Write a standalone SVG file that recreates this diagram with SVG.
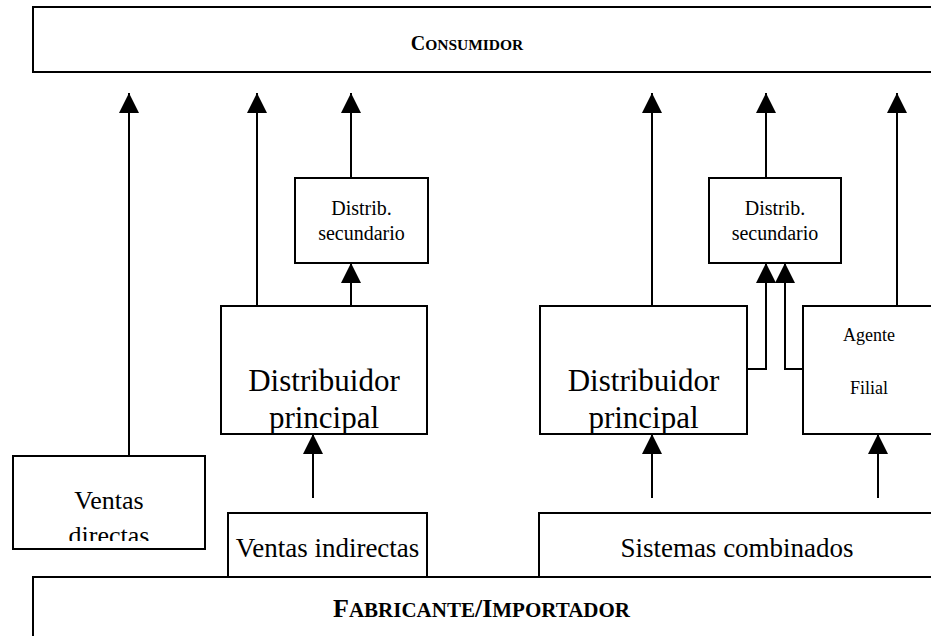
<svg xmlns="http://www.w3.org/2000/svg" width="931" height="636" viewBox="0 0 931 636">
<style>
.box{fill:#fff;stroke:#000;stroke-width:2}
.ln{fill:none;stroke:#000;stroke-width:2}
text{font-family:'Liberation Serif','Times New Roman','DejaVu Serif','Noto Serif',serif;fill:#000;text-anchor:middle;font-weight:normal}
.b{font-weight:bold}
</style>
<defs>
<marker id="ah" markerUnits="userSpaceOnUse" markerWidth="20" markerHeight="20" refX="20" refY="10" orient="auto">
<path d="M0,0 L20,10 L0,20 Z" fill="#000"/>
</marker>
<clipPath id="cd"><rect x="14" y="457" width="190" height="84"/></clipPath>
<clipPath id="cp1"><rect x="222" y="307" width="204" height="126"/></clipPath>
<clipPath id="cp2"><rect x="541" y="307" width="205" height="126"/></clipPath>
</defs>
<rect width="931" height="636" fill="#fff"/>
<g id="consumidor">
<rect class="box" x="33" y="7" width="910" height="65"/>
<text class="b" x="467" y="50"><tspan font-size="20">C</tspan><tspan font-size="15.5">ONSUMIDOR</tspan></text>
</g>
<g id="fabricante">
<rect class="box" x="33" y="577" width="910" height="70"/>
<text class="b" x="481.5" y="617"><tspan font-size="26">F</tspan><tspan font-size="21">ABRICANTE</tspan><tspan font-size="26">/I</tspan><tspan font-size="21">MPORTADOR</tspan></text>
</g>
<g id="ventas-directas">
<rect class="box" x="13" y="456" width="192" height="93"/>
<g clip-path="url(#cd)">
<text x="109" y="509" font-size="26">Ventas</text>
<text x="109" y="544" font-size="26">directas</text>
</g>
</g>
<g id="ventas-indirectas">
<rect class="box" x="228" y="513" width="199" height="64"/>
<text x="327.5" y="557" font-size="27">Ventas indirectas</text>
</g>
<g id="sistemas-combinados">
<rect class="box" x="539" y="513" width="400" height="64"/>
<text x="737" y="557" font-size="27">Sistemas combinados</text>
</g>
<g id="distribuidor-1">
<rect class="box" x="221" y="306" width="206" height="128"/>
<g clip-path="url(#cp1)">
<text x="324" y="391" font-size="31">Distribuidor</text>
<text x="324" y="428" font-size="31">principal</text>
</g>
</g>
<g id="distribuidor-2">
<rect class="box" x="540" y="306" width="207" height="128"/>
<g clip-path="url(#cp2)">
<text x="643.5" y="391" font-size="31">Distribuidor</text>
<text x="643.5" y="428" font-size="31">principal</text>
</g>
</g>
<g id="secundario-1">
<rect class="box" x="295" y="178" width="133" height="85"/>
<text x="361.5" y="215" font-size="20">Distrib.</text>
<text x="361.5" y="240" font-size="20">secundario</text>
</g>
<g id="secundario-2">
<rect class="box" x="709" y="178" width="132" height="85"/>
<text x="775" y="215" font-size="20">Distrib.</text>
<text x="775" y="240" font-size="20">secundario</text>
</g>
<g id="agente-filial">
<rect class="box" x="803" y="306" width="140" height="128"/>
<text x="869" y="341" font-size="18">Agente</text>
<text x="869" y="394" font-size="18">Filial</text>
</g>
<g id="connectors">
<line class="ln" x1="129" y1="456" x2="129" y2="93" marker-end="url(#ah)"/>
<line class="ln" x1="257" y1="306" x2="257" y2="93" marker-end="url(#ah)"/>
<line class="ln" x1="351" y1="306" x2="351" y2="263" marker-end="url(#ah)"/>
<line class="ln" x1="351" y1="178" x2="351" y2="93" marker-end="url(#ah)"/>
<line class="ln" x1="313" y1="498" x2="313" y2="434" marker-end="url(#ah)"/>
<line class="ln" x1="652" y1="306" x2="652" y2="93" marker-end="url(#ah)"/>
<line class="ln" x1="766" y1="178" x2="766" y2="93" marker-end="url(#ah)"/>
<line class="ln" x1="897" y1="306" x2="897" y2="93" marker-end="url(#ah)"/>
<polyline class="ln" points="747,369 766,369 766,263" marker-end="url(#ah)"/>
<polyline class="ln" points="803,369 785,369 785,263" marker-end="url(#ah)"/>
<line class="ln" x1="652" y1="498" x2="652" y2="434" marker-end="url(#ah)"/>
<line class="ln" x1="878" y1="498" x2="878" y2="434" marker-end="url(#ah)"/>
</g>
</svg>
